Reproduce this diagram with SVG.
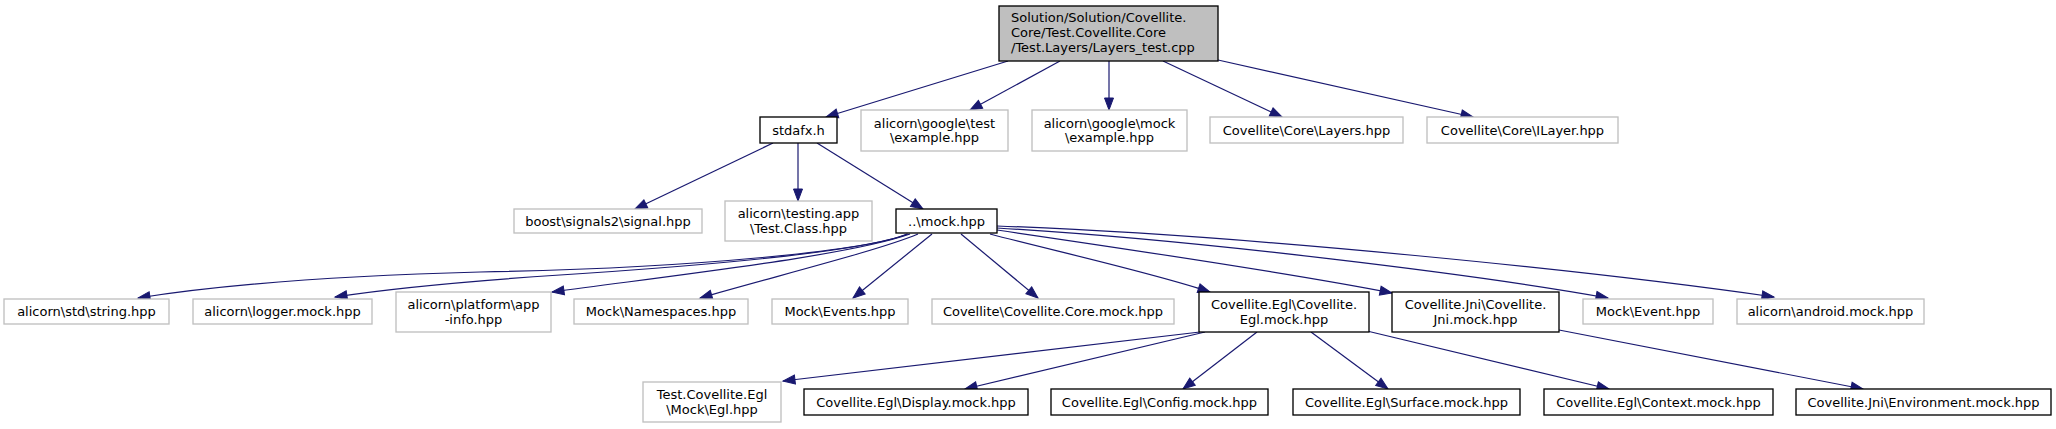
<svg xmlns="http://www.w3.org/2000/svg" width="2056" height="429" viewBox="0 0 2056 429">
<style>
  .n rect { fill: #ffffff; stroke: #000000; stroke-width: 1.33; }
  .g rect { fill: #ffffff; stroke: #bfbfbf; stroke-width: 1.33; }
  .r rect { fill: #bfbfbf; stroke: #000000; stroke-width: 1.33; }
  text { font-family: "DejaVu Sans", "Liberation Sans", sans-serif; font-size: 13px; fill: #000000; }
  .c { text-anchor: middle; }
  #edges path { fill: none; stroke: #191970; stroke-width: 1.2; marker-end: url(#arr); }
</style>
<defs>
  <marker id="arr" markerUnits="userSpaceOnUse" markerWidth="13" markerHeight="10" refX="12" refY="5" orient="auto" overflow="visible">
    <path d="M0,0.5 L12,5 L0,9.5 z" fill="#191970" stroke="#191970" stroke-width="1"/>
  </marker>
</defs>
<rect width="2056" height="429" fill="#ffffff"/>

<g id="edges">
  <path d="M1008,61 L826,117"/>
  <path d="M1060,61 L970,110"/>
  <path d="M1109,61 L1109,110"/>
  <path d="M1163,61 L1282,117"/>
  <path d="M1218,60 L1473,117"/>
  <path d="M773,143 L635,209"/>
  <path d="M798,143 L798,201"/>
  <path d="M817,143 L923,209"/>
  <path d="M907,234 C870,250 700,268 480,272 C330,276 220,285 138,298"/>
  <path d="M908,234 C860,252 700,266 560,275 C470,281 400,287 335,297"/>
  <path d="M910,234 C850,255 700,272 552,292"/>
  <path d="M918,234 C880,250 780,275 700,298"/>
  <path d="M932,234 L853,298"/>
  <path d="M961,234 L1038,298"/>
  <path d="M990,234 C1050,250 1150,272 1210,292"/>
  <path d="M997,230 C1100,245 1300,275 1392,293"/>
  <path d="M997,228 C1200,240 1480,275 1608,298"/>
  <path d="M997,226 C1250,235 1600,272 1774,297"/>
  <path d="M1200,332 L783,381"/>
  <path d="M1205,332 L965,389"/>
  <path d="M1257,332 L1183,389"/>
  <path d="M1311,332 L1388,389"/>
  <path d="M1367,331 L1609,389"/>
  <path d="M1559,330 L1863,389"/>
</g>

<g id="root" class="r">
  <rect x="999" y="6" width="219" height="55"/>
  <text x="1011" y="21.5">Solution/Solution/Covellite.</text>
  <text x="1011" y="36.5">Core/Test.Covellite.Core</text>
  <text x="1011" y="51.5">/Test.Layers/Layers_test.cpp</text>
</g>

<g id="stdafx" class="n">
  <rect x="760" y="117" width="77" height="26"/>
  <text class="c" x="798.5" y="134.5">stdafx.h</text>
</g>
<g id="google_test" class="g">
  <rect x="861" y="110" width="147" height="41"/>
  <text class="c" x="934.5" y="127.5">alicorn\google\test</text>
  <text class="c" x="934.5" y="142">\example.hpp</text>
</g>
<g id="google_mock" class="g">
  <rect x="1032" y="110" width="155" height="41"/>
  <text class="c" x="1109.5" y="127.5">alicorn\google\mock</text>
  <text class="c" x="1109.5" y="142">\example.hpp</text>
</g>
<g id="layers" class="g">
  <rect x="1210" y="117" width="193" height="26"/>
  <text class="c" x="1306.5" y="134.5">Covellite\Core\Layers.hpp</text>
</g>
<g id="ilayer" class="g">
  <rect x="1427" y="117" width="191" height="26"/>
  <text class="c" x="1522.5" y="134.5">Covellite\Core\ILayer.hpp</text>
</g>

<g id="boost" class="g">
  <rect x="514" y="209" width="188" height="24"/>
  <text class="c" x="608" y="225.5">boost\signals2\signal.hpp</text>
</g>
<g id="testclass" class="g">
  <rect x="725" y="201" width="147" height="40"/>
  <text class="c" x="798.5" y="218">alicorn\testing.app</text>
  <text class="c" x="798.5" y="232.5">\Test.Class.hpp</text>
</g>
<g id="mock" class="n">
  <rect x="896" y="209" width="101" height="24"/>
  <text class="c" x="946.5" y="225.5">..\mock.hpp</text>
</g>

<g id="string" class="g">
  <rect x="4" y="299" width="165" height="25"/>
  <text class="c" x="86.5" y="316">alicorn\std\string.hpp</text>
</g>
<g id="logger" class="g">
  <rect x="193" y="299" width="179" height="25"/>
  <text class="c" x="282.5" y="316">alicorn\logger.mock.hpp</text>
</g>
<g id="appinfo" class="g">
  <rect x="396" y="292" width="155" height="40"/>
  <text class="c" x="473.5" y="309">alicorn\platform\app</text>
  <text class="c" x="473.5" y="323.5">-info.hpp</text>
</g>
<g id="namespaces" class="g">
  <rect x="574" y="299" width="174" height="25"/>
  <text class="c" x="661" y="316">Mock\Namespaces.hpp</text>
</g>
<g id="events" class="g">
  <rect x="772" y="299" width="136" height="25"/>
  <text class="c" x="840" y="316">Mock\Events.hpp</text>
</g>
<g id="coremock" class="g">
  <rect x="932" y="299" width="242" height="25"/>
  <text class="c" x="1053" y="316">Covellite\Covellite.Core.mock.hpp</text>
</g>
<g id="eglmock" class="n">
  <rect x="1199" y="292" width="170" height="40"/>
  <text class="c" x="1284" y="309">Covellite.Egl\Covellite.</text>
  <text class="c" x="1284" y="323.5">Egl.mock.hpp</text>
</g>
<g id="jnimock" class="n">
  <rect x="1392" y="292" width="167" height="40"/>
  <text class="c" x="1475.5" y="309">Covellite.Jni\Covellite.</text>
  <text class="c" x="1475.5" y="323.5">Jni.mock.hpp</text>
</g>
<g id="event" class="g">
  <rect x="1583" y="299" width="130" height="25"/>
  <text class="c" x="1648" y="316">Mock\Event.hpp</text>
</g>
<g id="android" class="g">
  <rect x="1737" y="299" width="187" height="25"/>
  <text class="c" x="1830.5" y="316">alicorn\android.mock.hpp</text>
</g>

<g id="eglhpp" class="g">
  <rect x="643" y="382" width="138" height="40"/>
  <text class="c" x="712" y="399">Test.Covellite.Egl</text>
  <text class="c" x="712" y="413.5">\Mock\Egl.hpp</text>
</g>
<g id="display" class="n">
  <rect x="804" y="389" width="224" height="26"/>
  <text class="c" x="916" y="406.5">Covellite.Egl\Display.mock.hpp</text>
</g>
<g id="config" class="n">
  <rect x="1051" y="389" width="217" height="26"/>
  <text class="c" x="1159.5" y="406.5">Covellite.Egl\Config.mock.hpp</text>
</g>
<g id="surface" class="n">
  <rect x="1293" y="389" width="227" height="26"/>
  <text class="c" x="1406.5" y="406.5">Covellite.Egl\Surface.mock.hpp</text>
</g>
<g id="context" class="n">
  <rect x="1544" y="389" width="229" height="26"/>
  <text class="c" x="1658.5" y="406.5">Covellite.Egl\Context.mock.hpp</text>
</g>
<g id="environment" class="n">
  <rect x="1796" y="389" width="255" height="26"/>
  <text class="c" x="1923.5" y="406.5">Covellite.Jni\Environment.mock.hpp</text>
</g>
</svg>
